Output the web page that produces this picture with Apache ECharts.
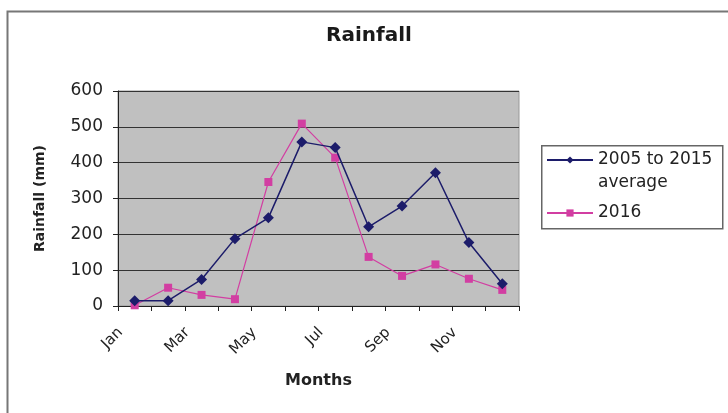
<!DOCTYPE html>
<html><head><meta charset="utf-8">
<script src="https://cdn.jsdelivr.net/npm/echarts@6/dist/echarts.min.js"></script>
<style>html,body{margin:0;padding:0;background:#fff}#c{width:728px;height:413px}</style>
</head><body><div id="c"></div>
<script>
const months = ['Jan','Feb','Mar','Apr','May','Jun','Jul','Aug','Sep','Oct','Nov','Dec'];
const avg2005to2015 = [15, 15, 74, 188, 246, 458, 442, 221, 279, 372, 177, 62];
const rain2016 = [2, 51, 31, 19, 346, 509, 414, 137, 84, 116, 76, 45];
const yTicks = {min: 0, max: 600, interval: 100};
const seriesNames = ['2005 to 2015\naverage', '2016'];

const F = 'DejaVu Sans, sans-serif';
const chart = echarts.init(document.getElementById('c'), null, {renderer: 'canvas'});
chart.setOption({
  animation: false,
  backgroundColor: '#fff',
  title: {text: 'Rainfall', left: 364, top: 21, textAlign: 'center',
    textStyle: {fontFamily: F, fontSize: 20, fontWeight: 'bold', color: '#1a1a1a'}},
  graphic: [
    {type: 'rect', left: 5, top: 9, shape: {width: 760, height: 440},
      style: {fill: 'none', stroke: '#777', lineWidth: 2}, z: 100},
    {type: 'rect', left: 541, top: 145, shape: {width: 181, height: 83},
      style: {fill: '#fff', stroke: '#666', lineWidth: 1.5}, z: 1}
  ],
  legend: {orient: 'vertical', left: 546, top: 125.5, padding: 0, itemWidth: 46, itemHeight: 9, itemGap: 7,
    textStyle: {fontFamily: F, fontSize: 17, color: '#222', lineHeight: 23}, z: 5,
    formatter: function (n) { return n.indexOf('\n') >= 0 ? '\n' + n : n; },
    data: seriesNames},
  grid: {left: 118, top: 91, width: 401, height: 215, show: true, backgroundColor: '#c0c0c0',
    borderColor: '#999', borderWidth: 1},
  xAxis: {type: 'category', data: months, boundaryGap: true,
    name: 'Months', nameLocation: 'middle', nameGap: 67,
    nameTextStyle: {fontFamily: F, fontSize: 16, fontWeight: 'bold', color: '#222'},
    axisLine: {lineStyle: {color: '#222', width: 1}},
    axisTick: {show: true, interval: 0, length: 5, lineStyle: {color: '#222'}},
    axisLabel: {interval: 1, rotate: 45, fontFamily: F, fontSize: 15, color: '#222', margin: 10,
      padding: [0, 20, 0, 0]}},
  yAxis: {type: 'value', min: yTicks.min, max: yTicks.max, interval: yTicks.interval,
    name: 'Rainfall (mm)', nameLocation: 'middle', nameGap: 71, nameRotate: 90,
    nameTextStyle: {fontFamily: F, fontSize: 14, fontWeight: 'bold', color: '#222'},
    axisLine: {show: true, lineStyle: {color: '#222', width: 1}},
    axisTick: {show: true, length: 5, lineStyle: {color: '#222'}},
    axisLabel: {fontFamily: F, fontSize: 17, color: '#222', margin: 15},
    splitLine: {lineStyle: {color: '#333', width: 1.2}}},
  series: [
    {name: seriesNames[0], type: 'line', data: avg2005to2015,
      symbol: 'diamond', symbolSize: 11, color: '#1c1c6a',
      lineStyle: {width: 1.5, color: '#1c1c6a'}, itemStyle: {color: '#1c1c6a'}, z: 3},
    {name: seriesNames[1], type: 'line', data: rain2016,
      symbol: 'rect', symbolSize: 8, color: '#d23ea2',
      lineStyle: {width: 1.2, color: '#d23ea2'}, itemStyle: {color: '#d23ea2'}, z: 2}
  ]
});
</script></body></html>
